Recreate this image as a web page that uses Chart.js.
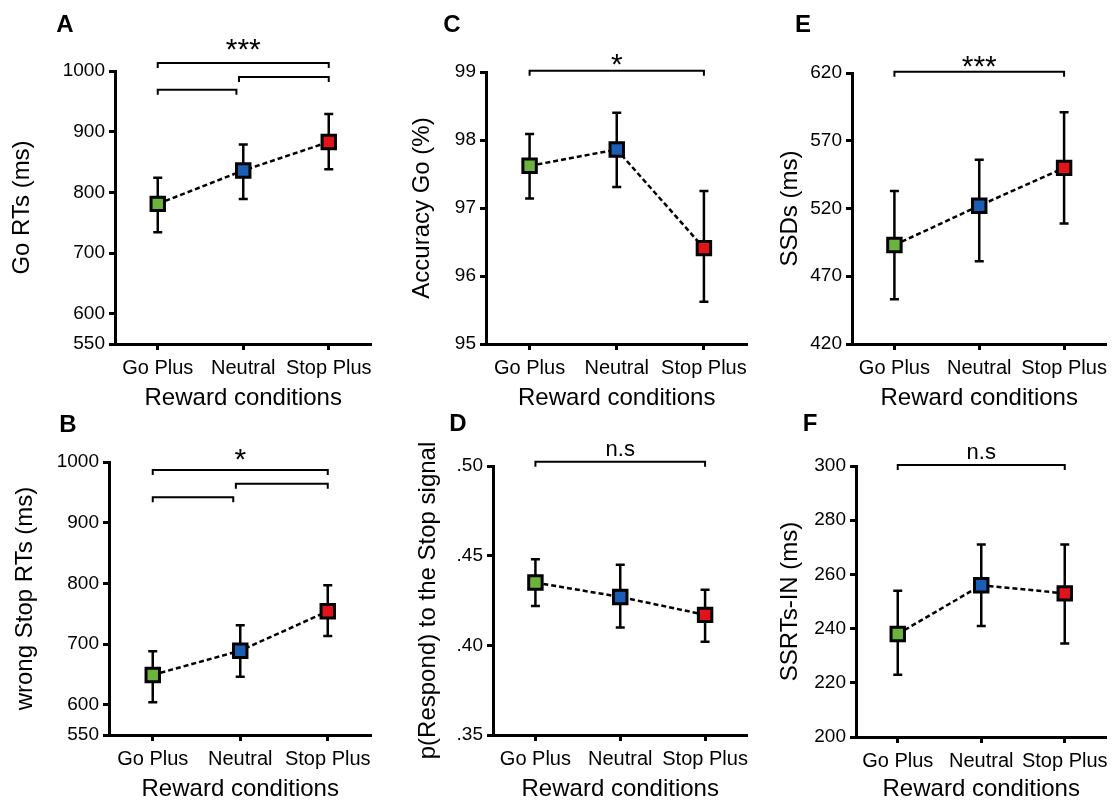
<!DOCTYPE html>
<html>
<head>
<meta charset="utf-8">
<script src="https://cdn.jsdelivr.net/npm/chart.js@4.4.0/dist/chart.umd.min.js"></script>
<style>
    body { margin: 0; background: #fff; width: 1119px; height: 803px; position: relative; overflow: hidden; }
    canvas { position: absolute; }
</style>
</head>
<body>
<canvas id="panelA"></canvas>
<canvas id="panelC"></canvas>
<canvas id="panelE"></canvas>
<canvas id="panelB"></canvas>
<canvas id="panelD"></canvas>
<canvas id="panelF"></canvas>
<script>
// shared x categories and marker colours
const categories = ['Go Plus', 'Neutral', 'Stop Plus'];
const markerColors = ['#6cb33e', '#1b5eb5', '#e3131b'];

// A - Go RTs
const goRtMean = [781, 836, 883];
const goRtLow = [734, 789, 838];
const goRtHigh = [824, 879, 929];
const goRtTicks = [550, 600, 700, 800, 900, 1000];
const goRtTickLabels = ['550', '600', '700', '800', '900', '1000'];
const goRtBrackets = [[0, 2, 1013], [0.95, 2, 990], [0, 0.92, 969]];

// B - wrong Stop RTs
const stopRtMean = [649, 689, 754];
const stopRtLow = [604, 646, 713];
const stopRtHigh = [688, 731, 797];
const stopRtTicks = [550, 600, 700, 800, 900, 1000];
const stopRtTickLabels = ['550', '600', '700', '800', '900', '1000'];
const stopRtBrackets = [[0, 2, 987], [0.95, 2, 964], [0, 0.92, 942]];

// C - Accuracy Go
const accMean = [97.62, 97.86, 96.41];
const accLow = [97.14, 97.31, 95.62];
const accHigh = [98.09, 98.40, 97.25];
const accTicks = [95, 96, 97, 98, 99];
const accTickLabels = ['95', '96', '97', '98', '99'];
const accBrackets = [[0, 2, 99.02]];

// D - p(Respond) to the Stop signal
const respMean = [0.435, 0.427, 0.417];
const respLow = [0.422, 0.410, 0.402];
const respHigh = [0.448, 0.445, 0.431];
const respTicks = [0.35, 0.40, 0.45, 0.50];
const respTickLabels = ['.35', '.40', '.45', '.50'];
const respBrackets = [[0, 2, 0.5024]];

// E - SSDs
const ssdMean = [493, 522, 550];
const ssdLow = [453, 481, 509];
const ssdHigh = [533, 556, 591];
const ssdTicks = [420, 470, 520, 570, 620];
const ssdTickLabels = ['420', '470', '520', '570', '620'];
const ssdBrackets = [[0, 2, 621]];

// F - SSRTs-IN
const ssrtMean = [238, 256, 253];
const ssrtLow = [223, 241, 234.5];
const ssrtHigh = [254, 271, 271];
const ssrtTicks = [200, 220, 240, 260, 280, 300];
const ssrtTickLabels = ['200', '220', '240', '260', '280', '300'];
const ssrtBrackets = [[0, 2, 300.4]];

const FONT = "'Liberation Sans', Arial, Helvetica, sans-serif";
Chart.defaults.font.family = FONT;
Chart.defaults.color = '#000';

// box = canvas [left, top, w, h]; area = plot [left, top, right, bottom] in page px
let panels = [
    { id: 'panelA', letter: 'A', letterAt: [65, 25], box: [0, 0, 384, 413], area: [115, 71, 382, 344], titleX: 22, xTitleY: 398,
      yTitle: 'Go RTs (ms)', mean: goRtMean, low: goRtLow, high: goRtHigh, ticks: goRtTicks, tickLabels: goRtTickLabels,
      brackets: goRtBrackets, sig: '***', sigFont: '30px', sigGap: 19 },
    { id: 'panelC', letter: 'C', letterAt: [452, 25], box: [384, 0, 376, 413], area: [486, 72, 757, 344], titleX: 422, xTitleY: 398,
      yTitle: 'Accuracy Go (%)', mean: accMean, low: accLow, high: accHigh, ticks: accTicks, tickLabels: accTickLabels,
      brackets: accBrackets, sig: '*', sigFont: '30px', sigGap: 11 },
    { id: 'panelE', letter: 'E', letterAt: [803, 25], box: [760, 0, 359, 413], area: [852, 73, 1119, 344], titleX: 790, xTitleY: 398,
      yTitle: 'SSDs (ms)', mean: ssdMean, low: ssdLow, high: ssdHigh, ticks: ssdTicks, tickLabels: ssdTickLabels,
      brackets: ssdBrackets, sig: '***', sigFont: '30px', sigGap: 10 },
    { id: 'panelB', letter: 'B', letterAt: [68, 425], box: [0, 413, 384, 390], area: [109, 462, 382, 735], titleX: 25, xTitleY: 789,
      yTitle: 'wrong Stop RTs (ms)', mean: stopRtMean, low: stopRtLow, high: stopRtHigh, ticks: stopRtTicks, tickLabels: stopRtTickLabels,
      brackets: stopRtBrackets, sig: '*', sigFont: '30px', sigGap: 15 },
    { id: 'panelD', letter: 'D', letterAt: [458, 424], box: [384, 413, 376, 390], area: [493, 466, 760, 735], titleX: 428, xTitleY: 789,
      yTitle: 'p(Respond) to the Stop signal', mean: respMean, low: respLow, high: respHigh, ticks: respTicks, tickLabels: respTickLabels,
      brackets: respBrackets, sig: 'n.s', sigFont: '22px', sigGap: 12 },
    { id: 'panelF', letter: 'F', letterAt: [810, 424], box: [760, 413, 359, 390], area: [856, 466, 1119, 737], titleX: 790, xTitleY: 789,
      yTitle: 'SSRTs-IN (ms)', mean: ssrtMean, low: ssrtLow, high: ssrtHigh, ticks: ssrtTicks, tickLabels: ssrtTickLabels,
      brackets: ssrtBrackets, sig: 'n.s', sigFont: '22px', sigGap: 12 }
];

function buildPanel(p) {
    let canvas = document.getElementById(p.id);
    canvas.width = p.box[2];
    canvas.height = p.box[3];
    canvas.style.left = p.box[0] + 'px';
    canvas.style.top = p.box[1] + 'px';
    // half the title line height (24px * 1.2 / 2)
    let half = 14.4;
    let padLeft = p.titleX - p.box[0] - half;
    let padTop = p.area[1] - p.box[1];
    let padRight = p.box[0] + p.box[2] - p.area[2];
    let yWidth = p.area[0] - p.box[0] - padLeft;
    let xHeight = p.xTitleY - p.area[3] + half;
    let padBottom = p.box[1] + p.box[3] - p.area[3] - xHeight;

    // vertical error bars, drawn below the markers
    let errorBars = {
        id: 'errorBars',
        beforeDatasetsDraw(chart) {
            let ctx = chart.ctx;
            let xs = chart.scales.x, ys = chart.scales.y;
            ctx.save();
            ctx.strokeStyle = '#000';
            ctx.lineWidth = 2.5;
            for (let i = 0; i < p.mean.length; i++) {
                let px = xs.getPixelForValue(i);
                let top = ys.getPixelForValue(p.high[i]);
                let bot = ys.getPixelForValue(p.low[i]);
                ctx.beginPath();
                ctx.moveTo(px, top); ctx.lineTo(px, bot);
                ctx.moveTo(px - 4.5, top); ctx.lineTo(px + 4.5, top);
                ctx.moveTo(px - 4.5, bot); ctx.lineTo(px + 4.5, bot);
                ctx.stroke();
            }
            ctx.restore();
        }
    };

    // significance brackets, label and panel letter
    let annotations = {
        id: 'annotations',
        afterDraw(chart) {
            let ctx = chart.ctx;
            let xs = chart.scales.x, ys = chart.scales.y;
            ctx.save();
            ctx.strokeStyle = '#000';
            ctx.lineWidth = 2;
            p.brackets.forEach(b => {
                let xa = xs.getPixelForValue(b[0]);
                let xb = xs.getPixelForValue(b[1]);
                let yy = ys.getPixelForValue(b[2]);
                ctx.beginPath();
                ctx.moveTo(xa, yy + 5);
                ctx.lineTo(xa, yy);
                ctx.lineTo(xb, yy);
                ctx.lineTo(xb, yy + 5);
                ctx.stroke();
            });
            let first = p.brackets[0];
            let cx = (xs.getPixelForValue(first[0]) + xs.getPixelForValue(first[1])) / 2;
            let cy = ys.getPixelForValue(first[2]) - p.sigGap;
            ctx.fillStyle = '#000';
            ctx.font = p.sigFont + ' ' + FONT;
            ctx.textAlign = 'center';
            ctx.textBaseline = 'alphabetic';
            let m = ctx.measureText(p.sig);
            ctx.fillText(p.sig, cx, cy + (m.actualBoundingBoxAscent - m.actualBoundingBoxDescent) / 2);

            ctx.font = 'bold 24px ' + FONT;
            ctx.textBaseline = 'middle';
            ctx.fillText(p.letter, p.letterAt[0] - p.box[0], p.letterAt[1] - p.box[1]);
            ctx.restore();
        }
    };

    new Chart(canvas, {
        type: 'line',
        data: {
            labels: categories,
            datasets: [{
                data: p.mean,
                borderColor: '#000',
                borderWidth: 2.5,
                borderDash: [5, 3],
                tension: 0,
                fill: false,
                pointStyle: 'rect',
                pointRadius: 9.5,
                pointBackgroundColor: markerColors,
                pointBorderColor: '#000',
                pointBorderWidth: 3
            }]
        },
        options: {
            responsive: false,
            animation: false,
            devicePixelRatio: 1,
            layout: { padding: { left: padLeft, top: padTop, right: padRight, bottom: padBottom } },
            plugins: { legend: { display: false }, tooltip: { enabled: false } },
            scales: {
                x: {
                    type: 'category',
                    offset: true,
                    afterFit: s => { s.height = xHeight; },
                    border: { color: '#000', width: 3 },
                    grid: { drawOnChartArea: false, drawTicks: true, tickLength: 6, tickWidth: 3, tickColor: '#000' },
                    ticks: { autoSkip: false, maxRotation: 0, padding: 6, font: { size: 20 }, color: '#000' },
                    title: { display: true, text: 'Reward conditions', font: { size: 24 }, padding: 0, color: '#000' }
                },
                y: {
                    min: p.ticks[0],
                    max: p.ticks[p.ticks.length - 1],
                    afterFit: s => { s.width = yWidth; },
                    afterBuildTicks: s => { s.ticks = p.ticks.map(v => ({ value: v })); },
                    border: { color: '#000', width: 3 },
                    grid: { drawOnChartArea: false, drawTicks: true, tickLength: 6, tickWidth: 3, tickColor: '#000' },
                    ticks: { autoSkip: false, padding: 4, font: { size: 19 }, color: '#000',
                             callback: (v, i) => p.tickLabels[i] },
                    title: { display: true, text: p.yTitle, font: { size: 24 }, padding: 0, color: '#000' }
                }
            }
        },
        plugins: [errorBars, annotations]
    });
}

panels.forEach(buildPanel);
</script>
</body>
</html>
